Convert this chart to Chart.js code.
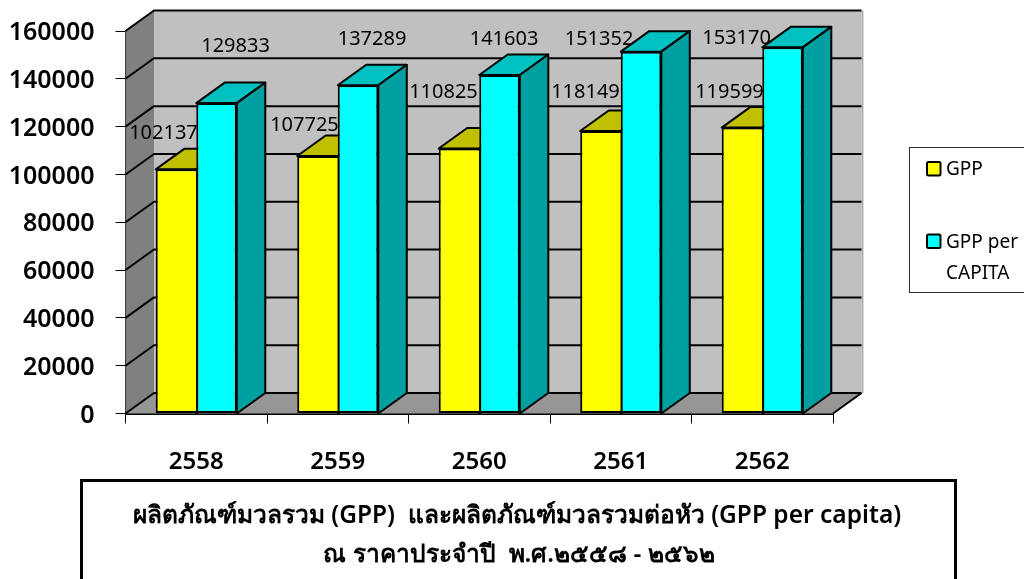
<!DOCTYPE html>
<html><head><meta charset="utf-8">
<style>html,body{margin:0;padding:0;background:#fff;overflow:hidden}#w{position:relative;width:1024px;height:579px}</style>
<script src="https://cdn.jsdelivr.net/npm/chart.js@4"></script></head>
<body><div id="w"><canvas id="c" width="1024" height="579"></canvas></div>
<script>
const categories = ['2558','2559','2560','2561','2562'];
const gppValues = [102137,107725,110825,118149,119599];
const gppPerCapitaValues = [129833,137289,141603,151352,153170];
const gppLabel = 'GPP';
const perCapitaLabel = ['GPP per','CAPITA'];
const titleLines = ['ผลิตภัณฑ์มวลรวม (GPP)  และผลิตภัณฑ์มวลรวมต่อหัว (GPP per capita)','ณ ราคาประจำปี  พ.ศ.๒๕๕๘ - ๒๕๖๒'];
const gppLabelOffsets = [[-12.5,-36],[-13,-30.5],[-15.5,-56],[-15,-38.5],[-12.5,-35]];
const perCapitaLabelOffsets = [[19,-57],[14,-46],[4.5,-36],[-42,-12],[-46,-9.5]];

const FONT='"Noto Sans","DejaVu Sans",sans-serif';
const DX=28.5, DY=20.5;
function poly(ctx,pts,fill,lw){ctx.beginPath();pts.forEach((p,i)=>i?ctx.lineTo(p[0],p[1]):ctx.moveTo(p[0],p[1]));ctx.closePath();
 if(fill){ctx.fillStyle=fill;ctx.fill();} if(lw){ctx.lineWidth=lw;ctx.strokeStyle='#000';ctx.stroke();}}
function noPad(s){s.paddingLeft=s.paddingRight=s.paddingTop=s.paddingBottom=0;}
const box3d={id:'box3d',
 beforeDatasetsDraw(ch){
  const {ctx,chartArea:a,scales:{y}}=ch; ctx.save(); ctx.lineJoin='round';
  const L=a.left,R=a.right,B=a.bottom,T=y.getPixelForValue(160000);
  poly(ctx,[[L+DX,T-DY],[R+DX,T-DY],[R+DX,B-DY],[L+DX,B-DY]],'#c0c0c0');
  poly(ctx,[[L,T],[L+DX,T-DY],[L+DX,B-DY],[L,B]],'#808080');
  poly(ctx,[[L,B],[L+DX,B-DY],[R+DX,B-DY],[R,B]],'#969696');
  ctx.fillStyle='#b0b0b0';ctx.fillRect(R+DX,T-DY,2,B-T);
  ctx.strokeStyle='#000';ctx.lineWidth=2;
  y.ticks.forEach(t=>{const p=y.getPixelForValue(t.value);ctx.beginPath();ctx.moveTo(L,p);ctx.lineTo(L+DX,p-DY);ctx.lineTo(R+DX,p-DY);ctx.stroke();});
  ctx.beginPath();ctx.moveTo(R,B);ctx.lineTo(R+DX,B-DY);ctx.stroke();
  const cols=[['#c0c000','#a0a000'],['#00c0c0','#00a0a0']];
  ch.data.labels.forEach((_,i)=>{[0,1].forEach(d=>{
    const b=ch.getDatasetMeta(d).data[i],w=b.width/2,x1=b.x-w,x2=b.x+w,t=b.y;
    poly(ctx,[[x1,t],[x2,t],[x2+DX,t-DY],[x1+DX,t-DY]],cols[d][0],2);
    poly(ctx,[[x2,t],[x2+DX,t-DY],[x2+DX,B-DY],[x2,B]],cols[d][1],2);
  });});
  ctx.restore();
 },
 afterDatasetsDraw(ch){
  const {ctx}=ch; ctx.save();
  ctx.font='20px '+FONT;ctx.fillStyle='#000';ctx.textAlign='center';ctx.textBaseline='middle';
  [gppLabelOffsets,perCapitaLabelOffsets].forEach((off,d)=>{
   const ds=ch.data.datasets[d];
   ch.getDatasetMeta(d).data.forEach((b,i)=>ctx.fillText(String(ds.data[i]),b.x+off[i][0],b.y+off[i][1]));
  });
  // legend
  ctx.fillStyle='#fff';ctx.strokeStyle='#333';ctx.lineWidth=1;
  ctx.fillRect(909.5,147.5,120,145);ctx.strokeRect(909.5,147.5,120,145);
  const sw=(x,y,c)=>{ctx.beginPath();ctx.roundRect(x+1,y+1,13.5,13.5,1.5);ctx.fillStyle=c;ctx.fill();ctx.lineWidth=2;ctx.strokeStyle='#000';ctx.stroke();};
  sw(926,161,'#ffff00');sw(926,233.5,'#00ffff');
  ctx.fillStyle='#000';ctx.textAlign='left';ctx.font='19px '+FONT;
  ctx.fillText(gppLabel,946,169.5);ctx.fillText(perCapitaLabel[0],946,243);ctx.fillText(perCapitaLabel[1],946,274);
  // title box
  ctx.strokeStyle='#000';ctx.lineWidth=3;ctx.beginPath();ctx.moveTo(81.5,582);ctx.lineTo(81.5,480.5);ctx.lineTo(955.5,480.5);ctx.lineTo(955.5,582);ctx.stroke();
  ctx.textAlign='center';ctx.font='600 24.5px '+FONT;
  ctx.fillText(titleLines[0],517,516);ctx.fillText(titleLines[1],519,555);
  ctx.restore();
 }};
new Chart(document.getElementById('c'),{
 type:'bar',
 data:{labels:categories,datasets:[
  {label:gppLabel,data:gppValues,backgroundColor:'#ffff00',borderColor:'#000',borderWidth:{top:2,left:2,bottom:2,right:0},borderSkipped:false,categoryPercentage:0.573,barPercentage:1},
  {label:perCapitaLabel.join(' '),data:gppPerCapitaValues,backgroundColor:'#00ffff',borderColor:'#000',borderWidth:2,borderSkipped:false,categoryPercentage:0.573,barPercentage:1}
 ]},
 options:{responsive:false,animation:false,
  layout:{padding:{top:31,right:191,left:0,bottom:0}},
  plugins:{legend:{display:false},title:{display:false},tooltip:{enabled:false}},
  scales:{
   x:{offset:true,afterFit(s){s.height=165.5;noPad(s);},
      grid:{display:true,drawOnChartArea:false,tickLength:10,color:'#000',lineWidth:1},
      border:{display:true,color:'#000',width:2},
      ticks:{padding:24,color:'#000',font:{family:FONT,size:24,weight:'600'},maxRotation:0}},
   y:{min:0,max:160000,afterFit(s){s.width=125.5;noPad(s);},
      grid:{display:true,drawOnChartArea:false,tickLength:10,color:'#000',lineWidth:1},
      border:{display:true,color:'#000',width:2},
      ticks:{stepSize:20000,padding:21,labelOffset:2,color:'#000',font:{family:FONT,size:25,weight:'600'},callback:v=>String(v)}}
  }},
 plugins:[box3d]});
</script></body></html>
